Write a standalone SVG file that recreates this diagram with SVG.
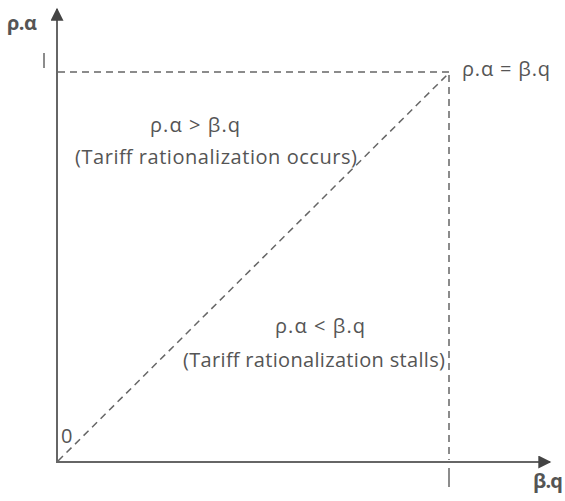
<svg xmlns="http://www.w3.org/2000/svg" width="565" height="501" viewBox="0 0 565 501">
<style>
.t{font-family:"Open Sans",Lato,"Liberation Sans",sans-serif;fill:#555;font-size:20px}
.b{font-weight:bold}
.ax{stroke:#666;stroke-width:2;fill:none}
.d{stroke:#666;stroke-width:1.5;stroke-dasharray:7,5;fill:none}
</style>
<defs>
<marker id="ah" viewBox="0 0 10 10" refX="9" refY="5" markerWidth="7" markerHeight="6.5" markerUnits="strokeWidth" orient="auto">
<path d="M0,0 L10,5 L0,10 z" fill="#444"/>
</marker>
</defs>
<g id="connectors">
<line class="ax" x1="57" y1="463" x2="57" y2="9" marker-end="url(#ah)"/>
<line class="ax" x1="56" y1="462" x2="550" y2="462" marker-end="url(#ah)"/>
<line class="d" x1="58" y1="72" x2="449" y2="72"/>
<line class="d" x1="449" y1="75" x2="449" y2="460"/>
<line class="d" x1="58" y1="461" x2="448" y2="74"/>
<line class="ax" x1="449" y1="468" x2="449" y2="487" style="stroke-width:1.5"/>
<line class="ax" x1="44" y1="53" x2="44" y2="68" style="stroke-width:1.5"/>
</g>
<g id="axis-labels">
<text class="t b" x="7" y="30" textLength="30">ρ.α</text>
<text class="t b" x="533" y="488" textLength="30">β.q</text>
<text class="t" x="61" y="443">0</text>
</g>
<g id="eq"><text class="t" x="462" y="76" textLength="88">ρ.α = β.q</text></g>
<g id="above">
<text class="t" x="150" y="132" textLength="90">ρ.α &gt; β.q</text>
<text class="t" x="75" y="164" textLength="282">(Tariff rationalization occurs)</text>
</g>
<g id="below">
<text class="t" x="275" y="333" textLength="90">ρ.α &lt; β.q</text>
<text class="t" x="183" y="367" textLength="262">(Tariff rationalization stalls)</text>
</g>
</svg>
